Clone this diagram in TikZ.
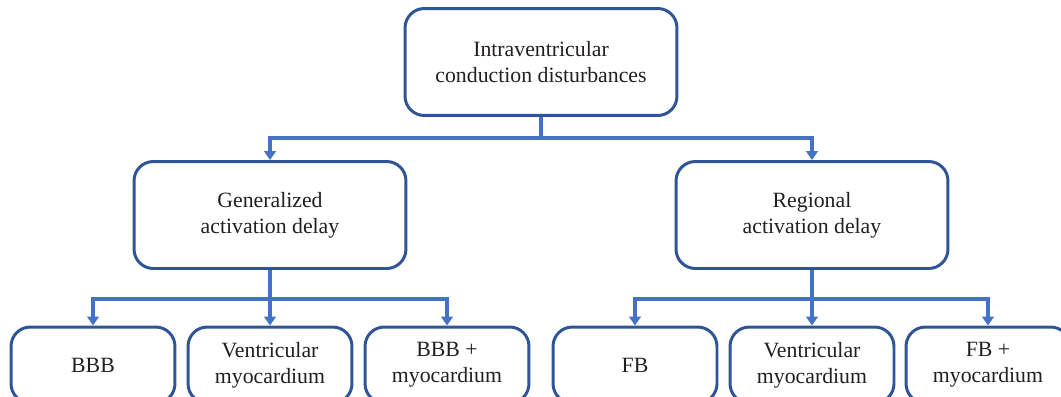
\documentclass[tikz,border=0pt]{standalone}
\usepackage{fontspec}
\setmainfont{Liberation Serif}
\usetikzlibrary{arrows.meta}
\definecolor{boxblue}{HTML}{2F5597}
\definecolor{linkblue}{HTML}{4472C4}
\definecolor{txtgray}{HTML}{231F20}
\tikzset{
    box/.style={draw=boxblue, line width=1.7pt, rounded corners=11pt, align=center,
        text=txtgray, inner sep=0pt, font=\fontsize{12.4}{14.8}\selectfont},
    bigbox/.style={box, minimum width=5.44cm, minimum height=2.14cm},
    smallbox/.style={box, minimum width=3.28cm, minimum height=1.52cm},
    link/.style={draw=linkblue, line width=1.8pt},
    arr/.style={link, -{Triangle[length=5pt,width=6.5pt]}}
}
\begin{document}
\begin{tikzpicture}[x=0.02cm, y=-0.02cm]
    \useasboundingbox (0,0) rectangle (1061,396);
    \clip (0,0) rectangle (1061,396);
    % boxes
    \node[bigbox] (ivcd) at (541,62) {Intraventricular\\conduction disturbances};
    \node[bigbox] (gen) at (270,215) {Generalized\\activation delay};
    \node[bigbox] (reg) at (812,215) {Regional\\activation delay};
    \node[smallbox] (bbb) at (93,365) {BBB};
    \node[smallbox] (gvm) at (270,365) {Ventricular\\myocardium};
    \node[smallbox] (bbbm) at (447,365) {BBB +\\myocardium};
    \node[smallbox] (fb) at (635,365) {FB};
    \node[smallbox] (rvm) at (812,365) {Ventricular\\myocardium};
    \node[smallbox] (fbm) at (988,365) {FB +\\myocardium};
    % connectors
    \coordinate (s0) at (541,138);
    \coordinate (s1) at (270,299);
    \coordinate (s2) at (812,299);
    \draw[link] (ivcd.south) -- (s0);
    \draw[arr] (s0) -| (gen.north);
    \draw[arr] (s0) -| (reg.north);
    \draw[link] (gen.south) -- (s1);
    \draw[arr] (s1) -| (bbb.north);
    \draw[arr] (s1) -- (gvm.north);
    \draw[arr] (s1) -| (bbbm.north);
    \draw[link] (reg.south) -- (s2);
    \draw[arr] (s2) -| (fb.north);
    \draw[arr] (s2) -- (rvm.north);
    \draw[arr] (s2) -| (fbm.north);
\end{tikzpicture}
\end{document}
